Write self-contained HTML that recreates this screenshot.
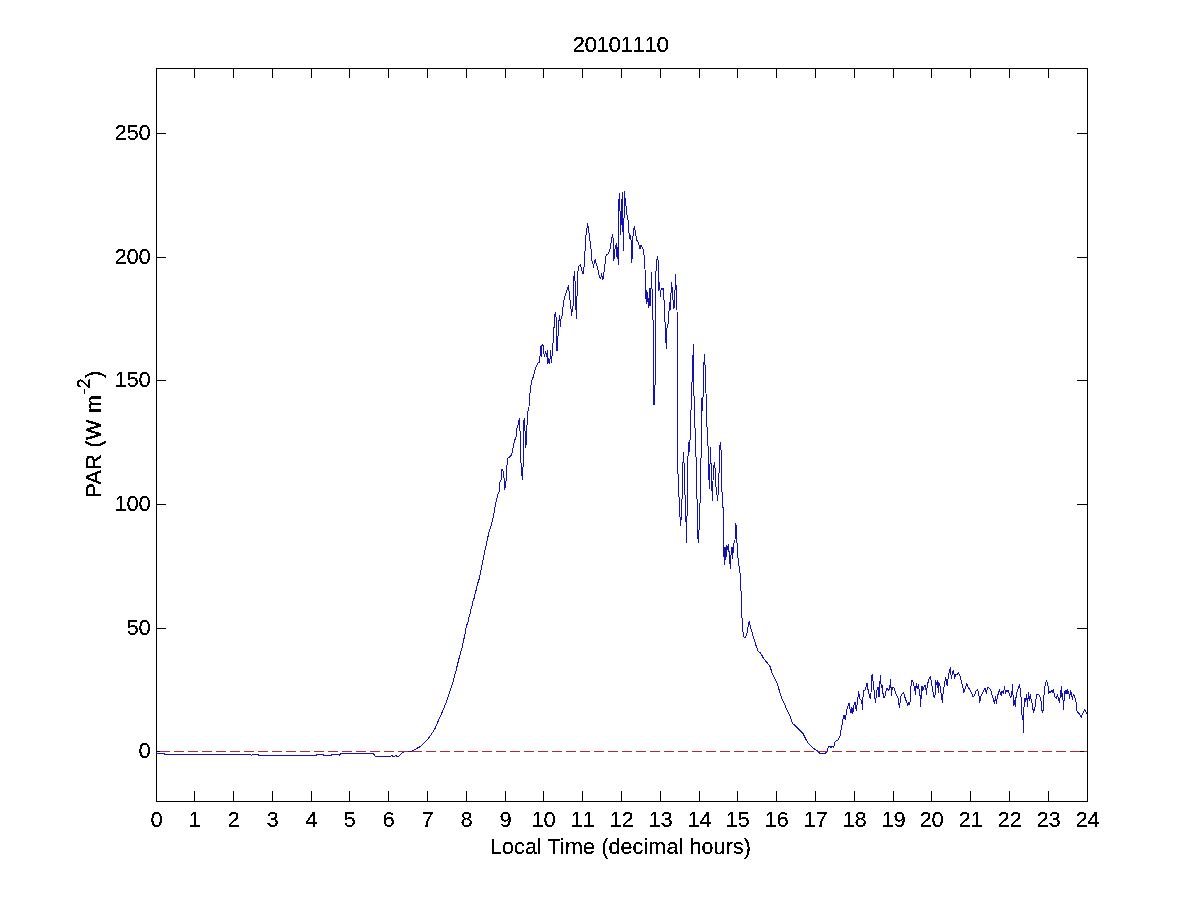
<!DOCTYPE html>
<html><head><meta charset="utf-8"><title>20101110</title>
<style>html,body{margin:0;padding:0;background:#fff;width:1201px;height:900px;overflow:hidden;position:relative}</style>
</head><body>
<svg width="1201" height="900" viewBox="0 0 1201 900" style="position:absolute;left:0;top:0">
<defs><filter id="al" x="0" y="0" width="1201" height="900" filterUnits="userSpaceOnUse"><feComponentTransfer><feFuncA type="discrete" tableValues="0 0 1 1 1"/></feComponentTransfer></filter></defs>
<rect width="1201" height="900" fill="#fff"/>
<g stroke="#000" stroke-width="1" shape-rendering="crispEdges" fill="none">
<rect x="156.5" y="68.5" width="931" height="733"/>
<path d="M156.5,801V791M156.5,68V78M194.5,801V791M194.5,68V78M233.5,801V791M233.5,68V78M272.5,801V791M272.5,68V78M311.5,801V791M311.5,68V78M349.5,801V791M349.5,68V78M388.5,801V791M388.5,68V78M427.5,801V791M427.5,68V78M466.5,801V791M466.5,68V78M505.5,801V791M505.5,68V78M543.5,801V791M543.5,68V78M582.5,801V791M582.5,68V78M621.5,801V791M621.5,68V78M660.5,801V791M660.5,68V78M699.5,801V791M699.5,68V78M737.5,801V791M737.5,68V78M776.5,801V791M776.5,68V78M815.5,801V791M815.5,68V78M854.5,801V791M854.5,68V78M893.5,801V791M893.5,68V78M931.5,801V791M931.5,68V78M970.5,801V791M970.5,68V78M1009.5,801V791M1009.5,68V78M1048.5,801V791M1048.5,68V78M1087.5,801V791M1087.5,68V78M156,751.5H166M1087,751.5H1077M156,628.5H166M1087,628.5H1077M156,504.5H166M1087,504.5H1077M156,380.5H166M1087,380.5H1077M156,257.5H166M1087,257.5H1077M156,133.5H166M1087,133.5H1077"/>
</g>
<path d="M156.0,753.5 L164.0,753.5 L165.0,754.5 L250.0,754.5 L251.5,755.5 L253.0,754.5 L258.0,754.5 L259.0,755.5 L316.0,755.5 L316.5,754.5 L323.0,754.5 L323.5,755.5 L331.0,755.5 L331.5,754.5 L338.0,754.5 L339.5,755.5 L340.5,753.5 L373.4,753.5 L375.4,756.3 L390.9,756.3 L391.8,755.4 L392.6,756.3 L395.0,756.3 L395.8,755.4 L397.0,756.3 L398.5,756.3 L400.8,754.0 L403.1,752.2 L405.5,751.7 L407.8,751.4 L411.9,751.1 L414.8,749.6 L418.3,747.6 L420.6,746.4 L423.0,744.1 L424.7,742.3 L426.4,740.9 L430.7,735.3 L434.7,729.3 L438.7,720.0 L444.0,708.0 L448.0,697.3 L452.0,685.3 L456.0,670.7 L459.3,657.3 L462.7,645.3 L463.5,640.0 L464.6,636.7 L465.3,632.2 L466.4,625.6 L467.8,623.3 L468.6,617.8 L469.7,615.6 L470.6,612.2 L471.1,607.8 L472.2,605.6 L472.8,601.1 L473.9,599.4 L474.4,595.6 L475.6,592.8 L476.3,588.9 L477.5,584.0 L479.3,578.7 L482.0,565.3 L484.0,554.7 L486.7,542.7 L488.7,533.3 L492.7,520.0 L494.6,509.3 L496.7,498.7 L498.3,493.3 L499.0,492.0 L499.9,482.7 L501.0,480.0 L502.0,469.3 L503.4,472.0 L504.3,481.3 L504.7,489.3 L505.7,485.3 L506.3,477.3 L507.4,458.7 L509.0,457.3 L511.7,454.7 L513.0,448.0 L514.3,441.3 L516.3,436.0 L517.0,428.0 L518.3,424.0 L519.4,418.7 L520.0,430.7 L520.7,458.7 L521.7,472.0 L522.3,479.3 L523.4,460.0 L523.7,421.3 L524.5,418.7 L525.0,430.7 L525.7,448.0 L526.6,438.7 L527.4,413.3 L528.0,410.7 L529.0,406.7 L529.3,399.3 L530.6,387.3 L531.9,380.7 L533.3,376.7 L535.0,370.0 L536.3,366.0 L538.3,362.7 L539.4,362.0 L540.0,356.7 L540.7,346.0 L541.3,356.7 L542.0,344.7 L543.0,345.3 L544.3,356.7 L545.7,351.3 L546.6,356.7 L547.4,350.7 L547.9,364.0 L548.7,358.0 L549.7,364.0 L550.6,350.0 L551.4,362.7 L552.3,352.7 L553.0,343.3 L553.7,335.3 L554.4,318.5 L555.3,312.3 L556.2,318.5 L557.0,351.3 L557.7,342.0 L558.9,320.3 L559.6,315.8 L560.5,326.5 L561.1,317.6 L562.0,315.8 L562.9,307.8 L563.8,300.7 L564.9,296.3 L566.5,291.8 L567.6,288.3 L568.4,285.6 L569.1,291.8 L570.0,299.8 L570.9,307.8 L571.5,315.4 L572.2,310.5 L573.1,305.2 L573.6,280.2 L574.5,271.4 L575.1,282.9 L575.6,303.4 L576.5,318.5 L576.9,299.8 L577.6,275.8 L578.5,266.0 L579.4,266.0 L580.2,264.2 L581.6,269.6 L582.9,274.0 L583.8,272.2 L584.5,254.4 L585.1,250.9 L585.6,237.3 L586.7,230.7 L587.6,223.3 L588.7,230.7 L590.0,241.3 L591.1,250.0 L591.4,259.8 L592.7,262.5 L593.6,267.8 L594.5,260.7 L595.4,259.8 L596.3,264.2 L597.2,266.9 L598.5,272.2 L599.6,277.6 L600.7,278.7 L601.6,273.3 L602.4,278.7 L602.9,280.0 L604.0,272.0 L605.4,260.6 L606.3,254.4 L607.7,254.4 L609.0,251.7 L610.3,248.2 L611.4,240.2 L612.6,234.4 L613.2,240.2 L613.6,260.6 L614.3,257.1 L615.2,247.3 L616.4,243.7 L616.8,256.2 L617.5,258.8 L617.9,247.3 L618.3,264.2 L618.8,206.4 L619.2,193.0 L619.7,208.1 L620.1,211.7 L620.6,234.8 L621.0,225.0 L621.5,209.0 L622.3,192.6 L622.8,225.9 L623.2,238.4 L623.5,250.8 L623.9,225.9 L624.4,191.2 L625.0,198.3 L625.6,205.5 L626.4,207.2 L626.8,214.4 L627.7,218.8 L628.6,222.4 L629.2,238.4 L630.4,235.7 L631.2,241.9 L631.9,262.4 L632.6,242.8 L633.5,228.6 L634.5,226.8 L635.7,234.8 L636.9,240.2 L637.9,241.9 L639.3,245.5 L640.1,249.1 L641.0,245.5 L642.4,247.3 L643.7,251.7 L644.5,260.0 L645.0,269.0 L645.5,287.0 L646.2,304.0 L646.8,290.0 L647.8,300.0 L648.5,308.0 L649.5,289.0 L650.0,306.0 L650.8,295.0 L651.5,273.0 L652.0,289.0 L652.8,290.0 L653.0,320.0 L653.3,403.0 L654.2,405.0 L655.0,386.7 L655.8,275.0 L656.5,261.0 L657.5,257.0 L658.5,263.0 L658.8,291.0 L659.5,283.0 L660.5,297.0 L661.2,288.0 L662.0,290.0 L663.0,288.0 L664.0,300.0 L665.0,321.7 L665.8,338.3 L666.3,348.3 L667.0,328.3 L668.3,323.3 L669.5,303.0 L670.2,310.0 L671.0,293.0 L671.5,283.0 L672.5,290.0 L673.5,309.0 L674.5,306.0 L675.5,275.0 L676.2,288.0 L677.0,310.0 L677.3,330.0 L677.3,457.0 L678.6,489.0 L679.8,513.4 L680.5,525.6 L681.7,513.4 L682.7,467.0 L683.7,452.0 L684.7,486.5 L685.9,518.0 L686.6,542.7 L687.6,476.7 L688.3,442.5 L689.6,452.0 L690.8,415.6 L691.5,398.5 L692.5,366.7 L693.5,344.7 L694.0,396.0 L695.0,427.8 L695.7,440.0 L696.4,476.7 L697.4,513.4 L698.1,542.7 L699.3,525.6 L700.6,484.0 L701.3,440.0 L701.8,398.5 L702.5,410.7 L703.5,383.8 L704.2,354.4 L705.5,371.6 L706.7,422.9 L707.9,440.0 L708.6,474.3 L709.6,489.0 L710.3,447.4 L711.6,476.7 L712.3,501.0 L713.5,467.0 L714.7,462.0 L716.0,486.5 L717.7,501.0 L718.9,476.7 L720.1,442.5 L721.3,452.0 L722.1,496.3 L723.3,511.0 L723.7,543.3 L724.2,565.0 L725.0,546.7 L725.8,560.0 L726.7,545.0 L727.5,550.0 L728.3,544.2 L729.2,553.3 L730.3,568.3 L731.2,551.7 L732.0,546.7 L732.7,558.3 L733.3,548.3 L734.2,541.7 L735.0,540.0 L735.5,523.3 L736.7,528.3 L737.2,551.7 L738.3,560.0 L740.0,573.3 L740.8,576.7 L741.3,610.0 L742.5,623.3 L743.3,636.7 L745.0,637.5 L746.7,635.0 L748.0,626.7 L749.2,621.7 L750.8,628.3 L753.3,636.7 L755.8,645.0 L758.3,651.7 L760.6,653.1 L763.7,658.6 L766.7,662.2 L769.8,665.9 L772.2,673.2 L774.1,677.5 L776.5,681.8 L778.9,689.1 L781.4,697.7 L784.4,703.8 L786.9,709.9 L790.0,716.0 L792.4,723.3 L796.7,727.0 L802.8,733.1 L805.8,739.2 L808.9,744.1 L812.6,747.8 L817.5,750.9 L819.9,753.3 L825.4,753.3 L827.2,750.9 L828.5,746.6 L829.7,746.0 L830.9,747.2 L832.7,746.6 L833.6,747.8 L834.6,742.9 L835.8,741.1 L837.6,740.5 L838.6,738.8 L840.3,735.2 L841.2,729.0 L842.6,721.9 L843.4,715.7 L844.3,715.7 L845.2,720.1 L846.1,714.8 L847.0,708.6 L847.9,705.9 L849.2,703.2 L850.1,709.4 L851.0,713.0 L851.9,707.7 L852.8,713.9 L854.1,704.1 L855.0,702.3 L856.3,710.3 L857.2,704.1 L858.6,691.7 L859.9,698.8 L861.7,700.6 L862.6,709.4 L863.0,697.0 L863.9,690.8 L865.2,689.9 L866.1,686.3 L867.0,682.8 L867.9,689.0 L869.2,695.2 L870.1,698.8 L871.0,693.4 L871.4,678.3 L872.3,674.3 L873.2,682.8 L874.1,690.8 L875.4,702.3 L876.3,696.1 L877.2,689.0 L878.1,687.2 L879.0,697.0 L879.9,682.8 L880.5,675.2 L881.2,687.2 L882.1,685.4 L883.4,697.0 L884.8,697.9 L885.7,691.7 L887.0,688.6 L888.3,690.8 L889.7,688.1 L890.6,679.2 L891.4,695.2 L892.3,687.2 L893.7,687.2 L894.6,689.9 L895.4,691.7 L896.3,695.2 L897.2,696.1 L898.3,698.8 L899.4,707.7 L900.8,697.0 L902.1,693.4 L903.4,692.6 L904.3,695.2 L905.7,699.7 L907.0,703.2 L907.9,705.9 L908.8,702.3 L909.7,704.1 L910.2,701.2 L910.6,692.6 L911.3,680.8 L912.7,680.8 L914.0,686.1 L914.9,690.6 L915.5,694.1 L916.2,683.4 L917.1,688.8 L918.4,684.3 L919.3,690.6 L920.2,696.8 L920.7,706.6 L921.4,690.6 L922.0,686.1 L922.9,690.6 L924.2,686.1 L925.6,685.2 L926.4,695.0 L927.3,685.2 L928.7,679.9 L930.4,676.3 L931.3,681.7 L932.2,687.0 L933.1,692.3 L934.0,697.2 L934.9,696.8 L935.8,680.8 L936.7,684.3 L937.6,680.8 L938.3,692.3 L938.9,682.6 L940.2,687.0 L941.3,695.0 L942.4,702.1 L943.3,690.6 L944.7,683.4 L945.6,677.2 L946.4,681.7 L947.2,686.1 L947.8,679.9 L949.1,672.8 L950.4,667.4 L951.3,678.9 L952.5,672.8 L953.6,670.1 L954.4,678.1 L955.8,674.6 L957.1,674.6 L958.4,672.8 L959.8,675.4 L961.1,679.9 L962.4,685.2 L963.8,692.3 L965.1,688.8 L966.9,683.4 L968.2,687.9 L969.6,688.8 L971.3,692.3 L973.1,696.8 L974.4,695.9 L975.8,691.4 L977.1,689.7 L978.4,691.4 L979.8,702.1 L981.1,695.9 L982.4,693.2 L983.8,690.6 L985.1,688.0 L986.3,693.3 L987.1,689.2 L988.3,687.1 L989.6,688.3 L990.8,690.0 L992.1,695.0 L993.3,699.2 L994.6,703.3 L995.4,696.7 L996.3,703.3 L997.1,698.3 L998.3,693.3 L999.6,690.0 L1000.4,693.3 L1001.3,695.8 L1002.1,690.8 L1003.3,693.3 L1004.6,686.7 L1005.4,693.3 L1006.3,690.0 L1007.1,691.7 L1008.3,690.0 L1009.6,695.0 L1010.8,697.5 L1011.7,695.0 L1012.5,684.6 L1013.2,698.3 L1013.8,705.8 L1014.3,700.8 L1015.4,706.7 L1016.3,693.3 L1017.5,690.8 L1018.3,688.3 L1019.3,684.6 L1020.4,690.0 L1021.3,700.8 L1021.7,715.0 L1022.9,715.8 L1023.3,732.5 L1023.8,715.0 L1024.2,700.0 L1025.0,698.3 L1025.8,701.7 L1026.7,694.2 L1027.5,706.7 L1028.3,692.5 L1029.2,700.8 L1030.4,694.2 L1031.3,700.8 L1032.5,704.2 L1033.3,712.5 L1034.6,709.2 L1035.4,704.2 L1035.8,700.0 L1036.7,694.2 L1037.9,694.2 L1039.2,695.0 L1040.0,696.7 L1040.8,698.3 L1041.7,709.2 L1042.5,712.5 L1043.3,710.0 L1043.8,697.5 L1044.6,689.2 L1045.4,683.3 L1046.5,680.4 L1047.5,684.2 L1048.3,687.5 L1048.8,693.3 L1049.6,691.7 L1050.4,692.5 L1051.3,690.0 L1052.1,692.5 L1053.3,689.2 L1054.2,694.2 L1055.0,696.7 L1056.3,698.3 L1057.5,695.0 L1058.3,698.3 L1059.6,702.5 L1060.4,694.2 L1061.5,686.3 L1062.1,698.3 L1062.7,693.3 L1063.5,709.2 L1064.3,696.7 L1065.2,690.0 L1066.0,694.2 L1067.1,689.2 L1067.9,693.3 L1068.8,691.7 L1069.6,698.3 L1070.7,690.4 L1071.7,695.0 L1072.5,699.2 L1073.3,694.2 L1074.6,696.7 L1075.8,700.0 L1076.7,710.0 L1077.9,712.5 L1079.6,714.2 L1081.3,717.1 L1082.5,714.2 L1083.8,711.7 L1085.0,709.6 L1086.3,712.9 L1087.0,713.3" fill="none" stroke="#1212b4" stroke-width="1" stroke-linejoin="round" shape-rendering="crispEdges"/>
<line x1="160" y1="751.5" x2="1087" y2="751.5" stroke="#ad2a32" stroke-width="1" stroke-dasharray="10 4" shape-rendering="crispEdges"/>
<g font-family="Liberation Sans, Arial, Helvetica, sans-serif" font-size="21.5" fill="#000" filter="url(#al)">
<text x="150.5" y="827" font-size="22">0</text>
<text x="188.5" y="827" font-size="22">1</text>
<text x="227.5" y="827" font-size="22">2</text>
<text x="266.5" y="827" font-size="22">3</text>
<text x="305.5" y="827" font-size="22">4</text>
<text x="343.5" y="827" font-size="22">5</text>
<text x="382.5" y="827" font-size="22">6</text>
<text x="421.5" y="827" font-size="22">7</text>
<text x="460.5" y="827" font-size="22">8</text>
<text x="499.5" y="827" font-size="22">9</text>
<text x="531.5 543.5" y="827" font-size="22">10</text>
<text x="570.5 582.5" y="827" font-size="22">11</text>
<text x="609.5 621.5" y="827" font-size="22">12</text>
<text x="648.5 660.5" y="827" font-size="22">13</text>
<text x="687.5 699.5" y="827" font-size="22">14</text>
<text x="725.5 737.5" y="827" font-size="22">15</text>
<text x="764.5 776.5" y="827" font-size="22">16</text>
<text x="803.5 815.5" y="827" font-size="22">17</text>
<text x="842.5 854.5" y="827" font-size="22">18</text>
<text x="881.5 893.5" y="827" font-size="22">19</text>
<text x="919.5 931.5" y="827" font-size="22">20</text>
<text x="958.5 970.5" y="827" font-size="22">21</text>
<text x="997.5 1009.5" y="827" font-size="22">22</text>
<text x="1036.5 1048.5" y="827" font-size="22">23</text>
<text x="1075.5 1087.5" y="827" font-size="22">24</text>
<text x="138.5" y="758.2" font-size="22">0</text>
<text x="126.5 138.5" y="634.6" font-size="22">50</text>
<text x="114.5 126.5 138.5" y="511.0" font-size="22">100</text>
<text x="114.5 126.5 138.5" y="387.4" font-size="22">150</text>
<text x="114.5 126.5 138.5" y="263.8" font-size="22">200</text>
<text x="114.5 126.5 138.5" y="140.2" font-size="22">250</text>
<text x="572.5 584.5 596.5 608.5 620.5 632.5 644.5 656.5" y="52" font-size="22.5">20101110</text>
<text x="620.5" y="854" text-anchor="middle" letter-spacing="0.12">Local Time (decimal hours)</text>
<text transform="translate(101,497.5) rotate(-90)" letter-spacing="0.35" stroke="#000" stroke-width="0.1">PAR (W m<tspan dy="-11" font-size="18">-2</tspan><tspan dy="11">)</tspan></text>
</g>
</svg>
</body></html>
